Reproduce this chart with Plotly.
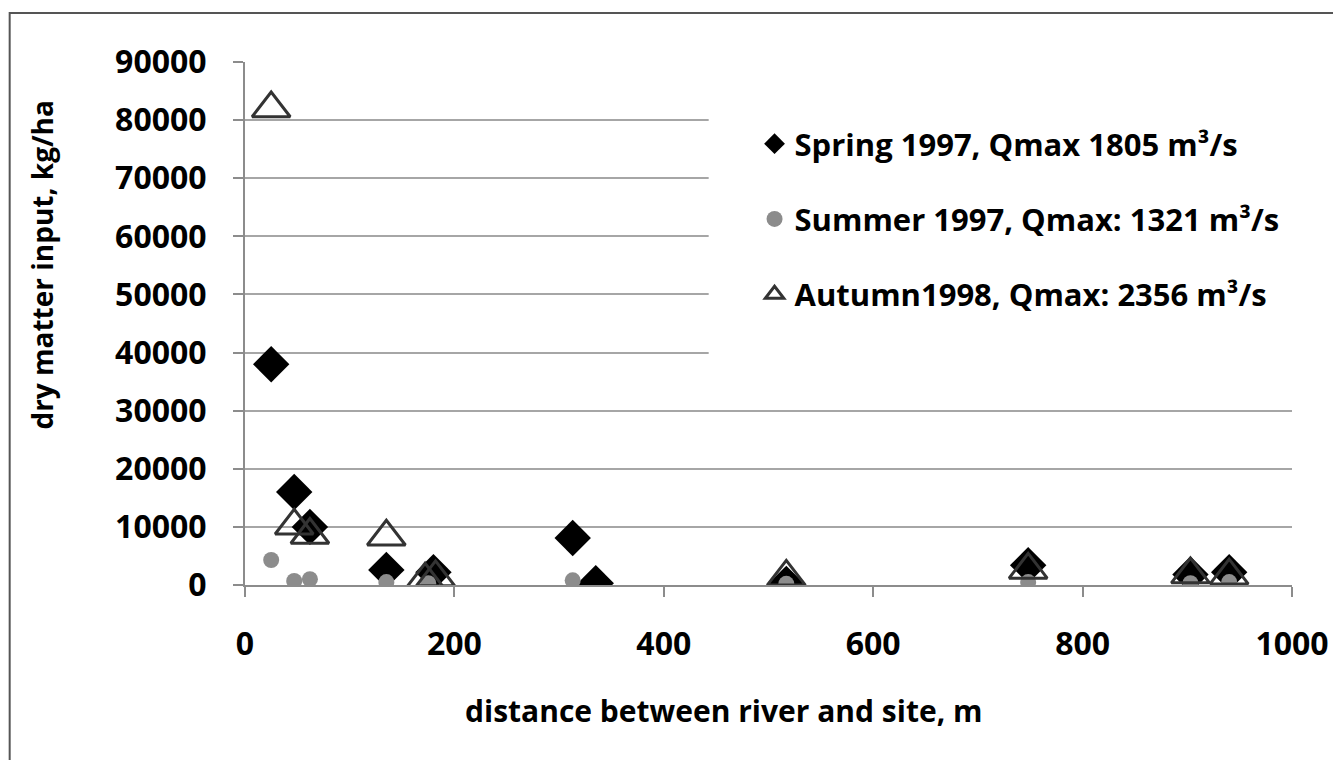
import plotly.graph_objects as go

# values
spring_x = [25, 47, 62, 135, 180, 313, 335, 517, 748, 903, 940]
spring_y = [38000, 16000, 10000, 2600, 2200, 8100, 300, 200, 3400, 1800, 2200]

summer_x = [25, 47, 62, 135, 175, 313, 517, 748, 903, 940]
summer_y = [4300, 700, 1000, 500, 300, 800, 200, 500, 300, 500]

autumn_x = [25, 47, 62, 135, 172, 182, 517, 748, 903, 940]
autumn_y = [82000, 10200, 8600, 8300, 900, 1300, 1400, 2600, 1800, 1600]

names = ["Spring 1997, Qmax 1805 m³/s",
         "Summer 1997, Qmax: 1321 m³/s",
         "Autumn1998, Qmax: 2356 m³/s"]

FONT = "Open Sans"
GRID = "#a6a6a6"
AXIS = "#8c8c8c"

fig = go.Figure()
fig.add_scatter(x=spring_x, y=spring_y, mode="markers", name=names[0],
                legendgroup="a",
                marker=dict(symbol="diamond", size=28, color="#000000"))
fig.add_scatter(x=summer_x, y=summer_y, mode="markers", name=names[1],
                legendgroup="b",
                marker=dict(symbol="circle", size=16, color="#8c8c8c"))
fig.add_scatter(x=autumn_x, y=autumn_y, mode="markers", name=names[2],
                legendgroup="c",
                marker=dict(symbol="triangle-up-open", size=33, color="#333333",
                            line=dict(width=3, color="#333333")))

# the page puts the figure 8px in from the top-left corner
OFF = 8
W, H = 1333, 752
X0, X1, Y0, Y1 = 245, 1295, 62, 585   # plot area in screen pixels
L, R = X0 - OFF, W - (X1 - OFF)
T, B = Y0 - OFF, H - (Y1 - OFF)
pw, ph = X1 - X0, Y1 - Y0


def px(p):
    return (p - X0) / pw


def py(q):
    return (Y1 - q) / ph


fig.update_layout(
    width=W, height=H,
    margin=dict(l=L, r=R, t=T, b=B),
    paper_bgcolor="white", plot_bgcolor="white",
    font=dict(family=FONT, color="#000000", weight="bold"),
    showlegend=True,
    legend=dict(x=px(756), y=py(117), xanchor="left", yanchor="top",
                bgcolor="rgba(0,0,0,0)", borderwidth=0,
                font=dict(size=31, family=FONT, weight="bold"),
                tracegroupgap=32),
    xaxis=dict(range=[0, 1000], dtick=200, showgrid=False, zeroline=False,
               showline=True, linecolor=AXIS, linewidth=2,
               ticks="outside", ticklen=10, tickwidth=2, tickcolor=AXIS,
               ticklabelstandoff=20,
               tickfont=dict(size=32, family=FONT, weight="bold")),
    yaxis=dict(range=[0, 90000], dtick=10000, tickformat="d",
               showgrid=True, gridcolor=GRID, gridwidth=2, zeroline=False,
               showline=True, linecolor=AXIS, linewidth=2,
               ticks="outside", ticklen=10, tickwidth=2, tickcolor=AXIS,
               ticklabelstandoff=20,
               tickfont=dict(size=32, family=FONT, weight="bold")),
    shapes=[
        # white legend box hiding the gridlines
        dict(type="rect", xref="paper", yref="paper", layer="above",
             x0=px(710), x1=px(1300), y0=py(380), y1=py(65),
             fillcolor="white", line=dict(width=0)),
        # outer frame
        dict(type="rect", xref="paper", yref="paper",
             x0=px(9), x1=px(1338), y0=py(790), y1=py(13),
             line=dict(color="#555555", width=2)),
    ],
    annotations=[
        dict(text="distance between river and site, m", xref="paper", yref="paper",
             x=px(725), y=py(710), xanchor="center", yanchor="middle",
             showarrow=False, font=dict(size=30, family=FONT, weight="bold")),
        dict(text="dry matter input, kg/ha", xref="paper", yref="paper",
             x=px(41), y=py(265), xanchor="center", yanchor="middle",
             showarrow=False, textangle=-90,
             font=dict(size=28, family=FONT, weight="bold")),
    ],
)

fig.write_html("out.html")
